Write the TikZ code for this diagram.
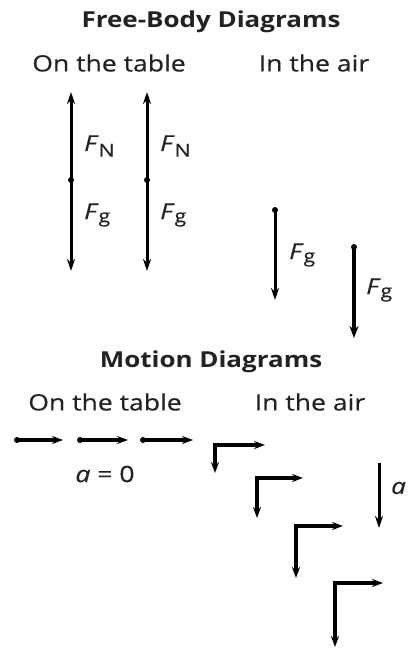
\documentclass[tikz,border=0pt]{standalone}
\usepackage{fontspec}
\setmainfont{Open Sans}
\newfontfamily\medfont[FakeBold=0.4]{Open Sans}
\usetikzlibrary{arrows.meta}
\definecolor{txt}{HTML}{222222}
\newcommand{\wide}[1]{\scalebox{1.18}[1]{#1}}
\newcommand{\widet}[1]{\scalebox{1.18}[1]{#1}}
\tikzset{
  head/.style={font=\bfseries\fontsize{22}{26}\selectfont, text=txt, inner sep=0pt},
  sub/.style={font=\medfont\fontsize{22.5}{26}\selectfont, text=txt, inner sep=0pt},
  lab/.style={font=\medfont\fontsize{22}{24}\selectfont, text=txt, inner sep=0pt, anchor=west},
  force/.style={line width=3pt, -{Stealth[length=12pt,width=8pt]}},
  forcethick/.style={line width=4pt, -{Stealth[length=12pt,width=9pt]}},
  vel/.style={line width=4.5pt, -{Stealth[length=11pt,width=8pt]}},
  tail/.style={circle, fill=black, inner sep=0pt, minimum size=6pt},
}
\newcommand{\Fsub}[1]{\textit{F}\textsubscript{\fontsize{18}{18}\selectfont #1}}
\begin{document}
\begin{tikzpicture}[x=1pt,y=-1pt]
\useasboundingbox (0,0) rectangle (407,650);
% Free-body diagrams
\node[head] (t1) at (211,22) {\widet{Free-Body Diagrams}};
\node[sub] (s1) at (109,63) {\wide{On the table}};
\node[sub] (s2) at (314,63) {\wide{In the air}};
% table arrows
\foreach \n/\x in {a/71,b/147}{
  \node[tail] (o\n) at (\x,180) {};
  \coordinate (u\n) at (\x,92);
  \coordinate (d\n) at (\x,271);
  \draw[force] (o\n.center) -- (u\n);
  \draw[force] (o\n.center) -- (d\n);
  \node[lab] (fn\n) at (\x+13,146) {\wide{\Fsub{N}}};
  \node[lab] (fg\n) at (\x+13,215) {\wide{\Fsub{g}}};
}
% air arrows
\node[tail] (oc) at (275,210) {};
\coordinate (dc) at (275,300);
\draw[force] (oc.center) -- (dc);
\node[lab] (fgc) at (289,255) {\wide{\Fsub{g}}};
\node[tail] (od) at (354,247) {};
\coordinate (dd) at (354,338);
\draw[forcethick] (od.center) -- (dd);
\node[lab] (fgd) at (366,290) {\wide{\Fsub{g}}};
% Motion diagrams
\node[head] (t2) at (211,362) {\widet{Motion Diagrams}};
\node[sub] (s3) at (105,402) {\wide{On the table}};
\node[sub] (s4) at (310,402) {\wide{In the air}};
\foreach \n/\xa/\xb in {1/17/63,2/80/128,3/143/193}{
  \node[tail] (h\n) at (\xa,440) {};
  \coordinate (he\n) at (\xb,440);
  \draw[vel] (h\n.center) -- (he\n);
}
\node[sub] (a0) at (105,474) {\wide{\textit{a} = 0}};
% L shapes
\foreach \n/\cx/\cy/\hx/\vy in {1/215/445/265/473, 2/257/478/303/518, 3/296/526/343/578, 4/335/583/383/647}{
  \coordinate (c\n) at (\cx,\cy);
  \coordinate (ch\n) at (\hx,\cy);
  \coordinate (cv\n) at (\cx,\vy);
  \draw[vel] ([xshift=-2.25pt]c\n) -- (ch\n);
  \draw[vel] ([yshift=-2.25pt]c\n) -- (cv\n);
}
\coordinate (ga) at (379,463);
\coordinate (gb) at (379,528);
\draw[line width=3pt, -{Stealth[length=12pt,width=8pt]}] (ga) -- (gb);
\node[lab] (al) at (391,488) {\wide{\textit{a}}};
\end{tikzpicture}
\end{document}
